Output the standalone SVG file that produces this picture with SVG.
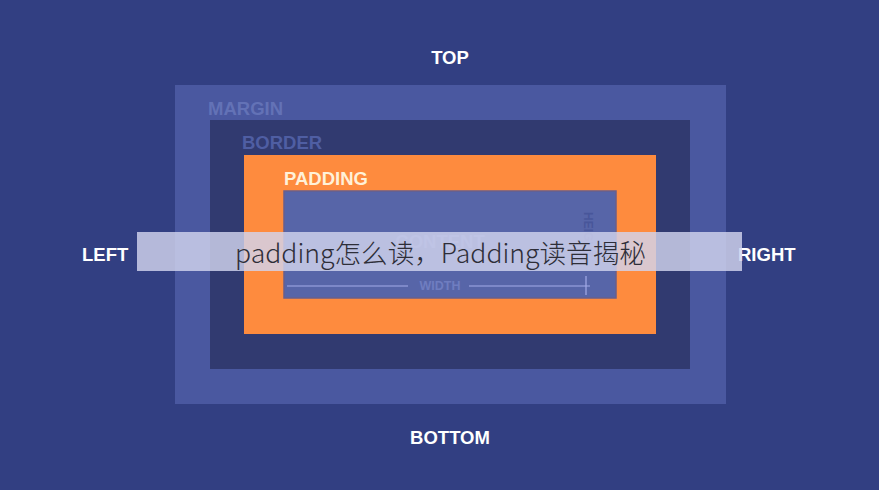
<svg xmlns="http://www.w3.org/2000/svg" width="879" height="490" viewBox="0 0 879 490">
<style>
.lbl{font-family:"Liberation Sans",Arial,sans-serif;font-weight:bold;font-size:18.5px}
.w{fill:#ffffff}
</style>
<rect x="0" y="0" width="879" height="490" fill="#323f82"/>
<g id="margin">
<rect x="175" y="85" width="551" height="319" fill="#4a58a0"/>
<text class="lbl" x="208" y="115" fill="#6372b6">MARGIN</text>
</g>
<g id="border">
<rect x="210" y="120" width="480" height="249" fill="#313a70"/>
<text class="lbl" x="242" y="149" fill="#4f5ea3">BORDER</text>
</g>
<g id="padding">
<rect x="244" y="155" width="412" height="179" fill="#fe8b3e"/>
<text class="lbl" x="284" y="185" fill="#fff1d8">PADDING</text>
</g>
<g id="content">
<rect x="284" y="191" width="332" height="107" fill="#5765a8" stroke="#6a5f8a" stroke-width="1.5"/>
<text class="lbl" x="440" y="248" text-anchor="middle" fill="#6b79bd">CONTENT</text>
<text x="584" y="212" transform="rotate(90 584 212)" font-family="Liberation Sans,Arial,sans-serif" font-weight="bold" font-size="12" fill="#48569a">HEIGHT</text>
</g>
<g id="connectors" stroke="#a3abe8" stroke-width="1.2" fill="none">
<line x1="287" y1="286" x2="408" y2="286"/>
<line x1="469" y1="286" x2="590" y2="286"/>
<line x1="586" y1="276" x2="586" y2="295"/>
</g>
<text x="440" y="290" text-anchor="middle" font-family="Liberation Sans,Arial,sans-serif" font-weight="bold" font-size="12.5" fill="#6f7dc0">WIDTH</text>
<g id="sides">
<text class="lbl w" x="450" y="64" text-anchor="middle">TOP</text>
<text class="lbl w" x="450" y="444" text-anchor="middle">BOTTOM</text>
<text class="lbl w" x="82" y="261">LEFT</text>
<text class="lbl w" x="738" y="261">RIGHT</text>
</g>
<g id="banner">
<rect x="137" y="232" width="605" height="39" fill="#d2d4ee" fill-opacity="0.82"/>
<text x="440.5" y="262.5" text-anchor="middle" font-family="'Noto Sans CJK SC','Noto Sans',sans-serif" font-weight="300" font-size="26.6" fill="#2e2e38">padding怎么读，Padding读音揭秘</text>
</g>
</svg>
